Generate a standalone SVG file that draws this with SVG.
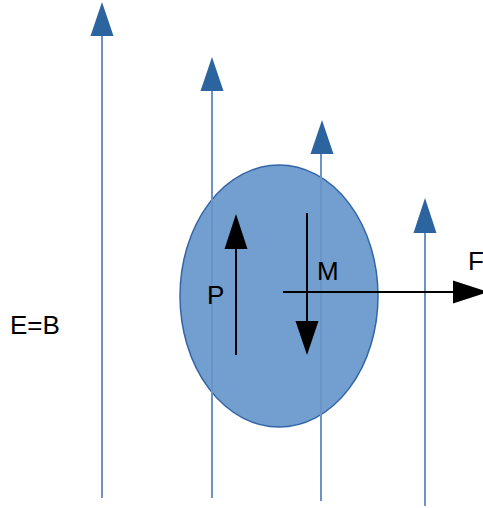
<svg xmlns="http://www.w3.org/2000/svg" width="483" height="508" viewBox="0 0 483 508">
<style>
.field{stroke:#6b93c6;stroke-width:2;fill:none}
.fhead{fill:#2c64a0}
.blk{stroke:#000;stroke-width:2;fill:none}
.bhead{fill:#000}
text{font-family:"Liberation Sans",Arial,sans-serif;font-size:26px;fill:#000}
</style>
<rect width="483" height="508" fill="#fff"/>
<g id="body">
<ellipse cx="279" cy="296" rx="99" ry="131" fill="#729fcf" stroke="#3465a4" stroke-width="1.5"/>
</g>
<g id="field-lines">
<line class="field" x1="102" y1="498" x2="102" y2="34"/>
<polygon class="fhead" points="102,2 90.5,36 113.5,36"/>
<line class="field" x1="212" y1="498" x2="212" y2="90"/>
<polygon class="fhead" points="212,57 200.5,91 223.5,91"/>
<line class="field" x1="321" y1="501" x2="321" y2="153"/>
<polygon class="fhead" points="322,120 310.5,154 333.5,154"/>
<line class="field" x1="425" y1="506" x2="425" y2="232"/>
<polygon class="fhead" points="425,198 413.5,233 436.5,233"/>
</g>
<g id="P">
<line class="blk" x1="236" y1="355" x2="236" y2="248"/>
<polygon class="bhead" points="236,214 224.5,249 247.5,249"/>
<text x="207" y="304">P</text>
</g>
<g id="M">
<line class="blk" x1="307" y1="213" x2="307" y2="322"/>
<polygon class="bhead" points="307,355 295.5,321 318.5,321"/>
<text x="317" y="280">M</text>
</g>
<g id="F">
<line class="blk" x1="283" y1="292" x2="455" y2="292"/>
<polygon class="bhead" points="488,292 453,280.5 453,303.5"/>
<text x="468" y="270">F</text>
</g>
<g id="label-EB">
<text x="10" y="334">E=B</text>
</g>
</svg>
